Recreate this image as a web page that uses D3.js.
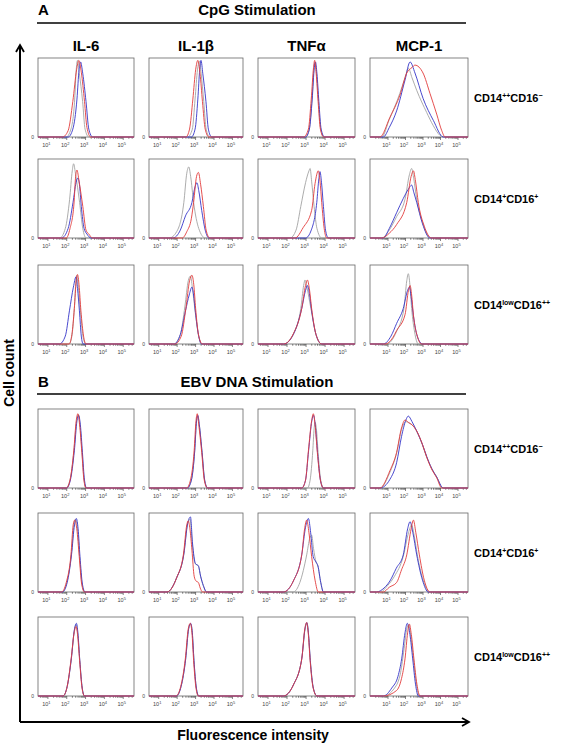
<!DOCTYPE html>
<html><head><meta charset="utf-8">
<script src="https://cdn.jsdelivr.net/npm/d3@7"></script>
<style>body{margin:0;background:#fff} text{font-family:"Liberation Sans",Arial,sans-serif}</style>
</head><body><svg id="c" width="565" height="744"></svg>
<script>
// ---------------- DATA ----------------
const sections = [{letter:"A", title:"CpG Stimulation"}, {letter:"B", title:"EBV DNA Stimulation"}];
const columns = ["IL-6", "IL-1β", "TNFα", "MCP-1"];
const rowLabels = [["CD14","++","CD16","−"], ["CD14","+","CD16","+"], ["CD14","low","CD16","++"]];
const tickExponents = [1, 2, 3, 4, 5];
// each curve: [log10 fluorescence, % of max cell count]
const CPG_IL6 = [
 { gray:[[2.0,0],[2.25,10],[2.45,48],[2.53,85],[2.6,97],[2.7,80],[2.87,45],[3.0,10],[3.2,0]],
   blue:[[2.1,0],[2.35,10],[2.57,48],[2.68,85],[2.76,95],[2.88,80],[3.05,45],[3.2,10],[3.4,0]],
   red:[[1.8,0],[2.1,8],[2.35,45],[2.55,85],[2.67,97],[2.8,82],[2.97,45],[3.1,12],[3.3,0]] },
 { gray:[[1.65,0],[1.95,12],[2.18,49],[2.32,85],[2.39,94],[2.5,80],[2.71,45],[2.88,12],[3.06,0]],
   blue:[[1.75,0],[2.1,12],[2.36,45],[2.52,70],[2.62,76],[2.7,68],[2.8,40],[2.95,12],[3.1,5],[3.32,0]],
   red:[[2.0,0],[2.2,12],[2.41,43],[2.5,78],[2.57,86],[2.68,72],[2.88,40],[3.05,10],[3.2,5],[3.4,0]] },
 { gray:[[2.15,0],[2.3,10],[2.43,45],[2.52,80],[2.56,87],[2.63,75],[2.76,40],[2.9,8],[3.05,0]],
   blue:[[1.64,0],[1.95,10],[2.17,42],[2.38,72],[2.52,85],[2.6,70],[2.7,42],[2.8,10],[2.9,0]],
   red:[[2.15,0],[2.3,12],[2.43,45],[2.53,80],[2.6,88],[2.68,75],[2.78,42],[2.92,10],[3.05,0]] }
];
const CPG_IL1B = [
 { gray:[[2.6,0],[2.85,10],[3.0,48],[3.13,85],[3.24,96],[3.33,80],[3.47,45],[3.6,10],[3.8,0]],
   blue:[[2.8,0],[3.0,10],[3.15,48],[3.25,85],[3.32,97],[3.42,80],[3.59,45],[3.72,10],[3.9,0]],
   red:[[2.5,0],[2.7,10],[2.88,48],[3.03,85],[3.15,97],[3.27,80],[3.4,45],[3.55,10],[3.75,0]] },
 { gray:[[1.6,0],[2.0,8],[2.39,45],[2.55,82],[2.66,90],[2.76,78],[2.92,45],[3.2,12],[3.55,0]],
   blue:[[1.8,0],[2.2,10],[2.48,28],[2.83,45],[3.0,65],[3.1,70],[3.2,60],[3.36,35],[3.55,10],[3.75,0]],
   red:[[2.3,0],[2.55,8],[2.8,25],[2.92,45],[3.08,78],[3.18,83],[3.3,68],[3.45,40],[3.6,10],[3.8,0]] },
 { gray:[[1.85,0],[2.2,12],[2.45,48],[2.63,80],[2.75,86],[2.85,72],[3.0,42],[3.18,12],[3.35,0]],
   blue:[[1.85,0],[2.2,12],[2.48,42],[2.68,62],[2.83,72],[2.92,62],[3.02,40],[3.18,12],[3.35,0]],
   red:[[1.9,0],[2.25,10],[2.5,45],[2.7,80],[2.83,87],[2.93,75],[3.03,45],[3.2,10],[3.4,0]] }
];
const CPG_TNF = [
 { gray:[[3.0,0],[3.2,10],[3.34,48],[3.45,88],[3.5,94],[3.58,80],[3.68,45],[3.8,10],[3.97,0]],
   blue:[[3.0,0],[3.2,10],[3.35,48],[3.46,88],[3.52,95],[3.6,80],[3.7,45],[3.82,10],[4.0,0]],
   red:[[2.9,0],[3.15,10],[3.3,48],[3.42,88],[3.48,97],[3.56,80],[3.66,45],[3.78,10],[3.95,0]] },
 { gray:[[2.18,0],[2.5,10],[2.75,40],[3.0,70],[3.18,85],[3.24,88],[3.32,72],[3.45,40],[3.6,12],[3.85,0]],
   blue:[[3.0,0],[3.3,10],[3.59,45],[3.7,75],[3.76,84],[3.84,70],[3.94,40],[4.05,10],[4.2,0]],
   red:[[2.45,0],[2.87,13],[3.32,35],[3.5,69],[3.67,85],[3.76,72],[3.85,45],[3.98,12],[4.11,0]] },
 { gray:[[1.85,0],[2.36,13],[2.75,45],[2.9,74],[2.97,81],[3.07,72],[3.28,45],[3.55,12],[3.85,0]],
   blue:[[1.85,0],[2.36,12],[2.8,45],[3.0,68],[3.1,74],[3.2,64],[3.32,42],[3.55,12],[3.85,0]],
   red:[[1.85,0],[2.36,13],[2.8,45],[3.0,74],[3.1,81],[3.2,70],[3.32,45],[3.55,12],[3.85,0]] }
];
const CPG_MCP = [
 { gray:[[0.67,0],[1.1,22],[1.7,55],[2.0,75],[2.19,87],[2.4,75],[2.67,59],[3.24,31],[3.6,15],[4.0,2],[4.2,0]],
   blue:[[0.76,0],[1.1,12],[1.52,33],[2.0,72],[2.29,95],[2.57,81],[3.03,49],[3.62,21],[4.19,0]],
   red:[[0.57,0],[1.14,25],[1.71,53],[2.1,81],[2.4,88],[2.57,91],[3.03,81],[3.43,55],[3.81,29],[4.1,8],[4.29,0]] },
 { gray:[[0.67,0],[1.1,10],[1.52,27],[2.0,49],[2.25,80],[2.38,88],[2.5,75],[2.67,49],[3.0,20],[3.43,0]],
   blue:[[0.76,0],[1.1,12],[1.52,32],[1.9,50],[2.2,62],[2.38,67],[2.5,58],[2.67,45],[3.0,18],[3.43,0]],
   red:[[0.67,0],[1.1,6],[1.52,17],[2.1,45],[2.35,78],[2.48,85],[2.6,72],[2.76,45],[3.1,15],[3.52,0]] },
 { gray:[[0.95,0],[1.5,15],[1.94,45],[2.1,80],[2.19,89],[2.28,75],[2.38,45],[2.55,15],[2.76,0]],
   blue:[[0.76,0],[1.2,10],[1.52,26],[1.9,45],[2.15,68],[2.25,72],[2.35,60],[2.48,36],[2.7,10],[3.0,0]],
   red:[[0.86,0],[1.3,8],[1.52,17],[2.0,37],[2.2,68],[2.29,74],[2.38,62],[2.48,37],[2.7,10],[2.95,0]] }
];
const EBV_IL6 = [
 { gray:[[2.0,0],[2.2,10],[2.41,47],[2.55,85],[2.64,93],[2.73,80],[2.84,45],[2.95,10],[3.06,0]],
   blue:[[2.02,0],[2.22,10],[2.43,47],[2.57,85],[2.66,92],[2.75,80],[2.86,45],[2.97,10],[3.08,0]],
   red:[[2.0,0],[2.2,10],[2.4,47],[2.53,85],[2.62,94],[2.71,80],[2.83,45],[2.94,10],[3.05,0]] },
 { gray:[[1.78,0],[2.03,12],[2.27,47],[2.41,85],[2.5,92],[2.6,80],[2.71,45],[2.84,10],[2.98,0]],
   blue:[[1.8,0],[2.05,12],[2.28,47],[2.44,85],[2.54,93],[2.63,80],[2.73,45],[2.86,10],[3.0,0]],
   red:[[1.75,0],[2.0,12],[2.25,47],[2.37,85],[2.45,91],[2.56,80],[2.69,45],[2.82,10],[2.97,0]] },
 { gray:[[1.83,0],[2.05,12],[2.27,47],[2.43,83],[2.53,90],[2.61,79],[2.72,45],[2.85,10],[2.97,0]],
   blue:[[1.83,0],[2.05,12],[2.27,47],[2.44,85],[2.54,92],[2.62,80],[2.72,45],[2.85,10],[2.97,0]],
   red:[[1.83,0],[2.05,12],[2.26,47],[2.42,80],[2.52,88],[2.6,78],[2.71,45],[2.84,10],[2.97,0]] }
];
const EBV_IL1B = [
 { gray:[[2.58,0],[2.8,10],[2.98,47],[3.08,85],[3.15,91],[3.23,80],[3.38,45],[3.52,10],[3.68,0]],
   blue:[[2.58,0],[2.8,10],[2.98,47],[3.08,85],[3.15,92],[3.23,80],[3.38,45],[3.52,10],[3.68,0]],
   red:[[2.54,0],[2.75,10],[2.95,47],[3.05,85],[3.12,94],[3.2,80],[3.36,45],[3.5,10],[3.67,0]] },
 { gray:[[1.48,0],[2.0,18],[2.39,48],[2.58,85],[2.72,92],[2.85,60],[3.0,36],[3.18,33],[3.3,20],[3.45,8],[3.63,0]],
   blue:[[1.48,0],[2.0,18],[2.39,48],[2.6,87],[2.75,95],[2.86,62],[3.02,36],[3.18,33],[3.3,20],[3.45,8],[3.63,0]],
   red:[[1.48,0],[2.0,18],[2.37,48],[2.55,85],[2.63,90],[2.72,80],[2.83,53],[2.95,20],[3.05,14],[3.18,12],[3.28,5],[3.4,0]] },
 { gray:[[1.98,0],[2.24,12],[2.49,47],[2.65,85],[2.76,91],[2.85,80],[2.94,45],[3.07,10],[3.2,0]],
   blue:[[1.98,0],[2.24,12],[2.49,47],[2.65,85],[2.76,92],[2.85,80],[2.94,45],[3.07,10],[3.2,0]],
   red:[[1.96,0],[2.22,12],[2.47,47],[2.63,85],[2.74,92],[2.83,80],[2.92,45],[3.05,10],[3.18,0]] }
];
const EBV_TNF = [
 { gray:[[3.1,0],[3.24,10],[3.38,47],[3.45,75],[3.5,83],[3.57,75],[3.66,45],[3.8,10],[3.95,0]],
   blue:[[2.8,0],[3.0,10],[3.16,47],[3.33,85],[3.42,92],[3.51,80],[3.63,45],[3.78,10],[3.94,0]],
   red:[[2.8,0],[3.0,10],[3.15,47],[3.32,85],[3.41,94],[3.5,80],[3.62,45],[3.78,10],[3.94,0]] },
 { gray:[[2.36,0],[2.7,12],[3.06,47],[3.22,68],[3.32,72],[3.42,55],[3.55,38],[3.65,33],[3.8,12],[3.94,0]],
   blue:[[1.83,0],[2.36,14],[2.8,47],[3.0,82],[3.15,93],[3.27,75],[3.4,45],[3.55,38],[3.65,33],[3.8,12],[3.94,0]],
   red:[[1.83,0],[2.36,14],[2.8,47],[2.95,80],[3.06,91],[3.18,75],[3.32,45],[3.5,15],[3.67,0]] },
 { gray:[[1.83,0],[2.36,14],[2.8,47],[2.97,84],[3.07,92],[3.15,80],[3.25,45],[3.41,10],[3.6,0]],
   blue:[[1.83,0],[2.36,14],[2.8,47],[2.97,85],[3.07,93],[3.15,80],[3.25,45],[3.41,10],[3.6,0]],
   red:[[1.83,0],[2.36,14],[2.8,47],[2.96,85],[3.06,93],[3.14,80],[3.24,45],[3.4,10],[3.6,0]] }
];
const EBV_MCP = [
 { gray:[[0.57,0],[1.14,20],[1.52,44],[1.8,74],[2.05,84],[2.25,82],[2.45,79],[2.67,72],[3.0,54],[3.24,39],[3.52,25],[3.81,14],[4.15,0]],
   blue:[[0.57,0],[1.14,11],[1.52,32],[1.8,65],[2.05,86],[2.19,91],[2.4,84],[2.67,72],[3.0,55],[3.24,40],[3.52,25],[3.81,14],[4.19,0]],
   red:[[0.57,0],[1.14,22],[1.52,45],[1.8,76],[2.0,86],[2.2,83],[2.4,80],[2.67,72],[3.0,55],[3.24,39],[3.52,24],[3.81,13],[4.1,0]] },
 { gray:[[0.6,0],[1.0,8],[1.4,20],[1.9,45],[2.2,75],[2.38,85],[2.52,72],[2.72,45],[3.05,14],[3.4,0]],
   blue:[[0.38,0],[0.8,5],[1.14,14],[1.5,30],[1.9,47],[2.15,80],[2.29,89],[2.45,75],[2.67,47],[3.0,15],[3.33,0]],
   red:[[0.76,0],[1.1,6],[1.52,12],[1.8,28],[2.1,47],[2.35,80],[2.48,91],[2.62,75],[2.82,47],[3.1,15],[3.43,0]] },
 { gray:[[0.76,0],[1.4,10],[1.75,30],[1.95,60],[2.1,85],[2.2,90],[2.33,76],[2.48,47],[2.65,15],[2.82,0]],
   blue:[[0.76,0],[1.24,10],[1.6,25],[1.81,47],[2.0,80],[2.13,92],[2.28,78],[2.44,47],[2.6,15],[2.76,0]],
   red:[[0.76,0],[1.52,7],[1.8,22],[2.0,47],[2.15,80],[2.25,91],[2.36,78],[2.51,47],[2.68,15],[2.86,0]] }
];
const sectionPanels = [[CPG_IL6, CPG_IL1B, CPG_TNF, CPG_MCP], [EBV_IL6, EBV_IL1B, EBV_TNF, EBV_MCP]];

// ---------------- LAYOUT / STYLE ----------------
const svg = d3.select("#c");
const colX = [38, 149, 258, 370], colW = [96, 94, 97, 98];
const rowY = [58, 159, 265, 409, 513, 617], panelH = 79;
const colExpRange = [[0.5, 5.6], [0.5, 5.6], [0.5, 5.6], [0, 5.6]];
const colors = {gray: "#a3a3a3", blue: "#3434c8", red: "#e23b3b"};
const drawOrder = ["gray", "blue", "red"];
const sectionTextY = [15, 387], sectionLineY = [23, 394];

// section titles
sections.forEach((s, i) => {
  svg.append("text").attr("x", 38).attr("y", sectionTextY[i]).attr("font-size", 15).attr("font-weight", "bold").text(s.letter);
  svg.append("text").attr("x", 257).attr("y", sectionTextY[i]).attr("font-size", 15).attr("font-weight", "bold")
     .attr("text-anchor", "middle").text(s.title);
  svg.append("line").attr("x1", 37).attr("x2", 466).attr("y1", sectionLineY[i]).attr("y2", sectionLineY[i])
     .attr("stroke", "#000").attr("stroke-width", 1.6);
});
// column headers (section A only)
columns.forEach((c, i) => {
  svg.append("text").attr("x", colX[i] + colW[i] / 2).attr("y", 51).attr("font-size", 15).attr("font-weight", "bold")
     .attr("text-anchor", "middle").text(c);
});
// row labels
[0, 1].forEach(s => rowLabels.forEach((lab, r) => {
  const t = svg.append("text").attr("x", 474).attr("y", rowY[s * 3 + r] + 44).attr("font-size", 11).attr("font-weight", "bold");
  t.append("tspan").text(lab[0]);
  t.append("tspan").attr("font-size", 7).attr("dy", -4).text(lab[1]);
  t.append("tspan").attr("dy", 4).text(lab[2]);
  t.append("tspan").attr("font-size", 7).attr("dy", -4).text(lab[3]);
}));

// panels
sectionPanels.forEach((cols, s) => cols.forEach((rows, c) => rows.forEach((curves, r) => {
  const top = rowY[s * 3 + r], left = colX[c], w = colW[c], bottom = top + panelH;
  const [e0, e1] = colExpRange[c];
  const x = d3.scaleLog().domain([Math.pow(10, e0), Math.pow(10, e1)]).range([left, left + w]);
  const y = d3.scaleLinear().domain([0, 100]).range([bottom, top]);
  const g = svg.append("g");
  g.append("rect").attr("x", left).attr("y", top).attr("width", w).attr("height", panelH)
   .attr("fill", "none").attr("stroke", "#666").attr("stroke-width", 0.8);
  // minor & major ticks
  const [lo, hi] = x.domain();
  const minor = [];
  for (let d = Math.floor(e0); d <= Math.ceil(e1); d++) for (let m = 2; m <= 9; m++) {
    const v = m * Math.pow(10, d); if (v >= lo && v <= hi) minor.push(v);
  }
  const major = tickExponents.map(k => Math.pow(10, k));
  const ax1 = g.append("g").attr("transform", `translate(0,${bottom})`)
    .call(d3.axisBottom(x).tickValues(minor).tickSize(1.8).tickSizeOuter(0).tickFormat(""));
  const ax2 = g.append("g").attr("transform", `translate(0,${bottom})`)
    .call(d3.axisBottom(x).tickValues(major).tickSize(3).tickSizeOuter(0).tickFormat(""));
  [ax1, ax2].forEach(a => { a.select(".domain").remove(); a.selectAll("line").attr("stroke", "#333").attr("stroke-width", 0.6); });
  // tick labels
  tickExponents.forEach(k => {
    const t = g.append("text").attr("x", x(Math.pow(10, k)) - 1).attr("y", bottom + 10)
      .attr("font-size", 5.5).attr("fill", "#444").attr("text-anchor", "middle");
    t.append("tspan").text("10");
    t.append("tspan").attr("font-size", 4).attr("dy", -2.5).text(k);
  });
  g.append("text").attr("x", left - 4).attr("y", bottom + 1.5).attr("font-size", 5).attr("fill", "#444")
   .attr("text-anchor", "end").text("0");
  // histograms
  const line = d3.line().x(d => x(Math.pow(10, d[0]))).y(d => y(d[1])).curve(d3.curveMonotoneX);
  drawOrder.forEach(k => {
    const pts = [[e0, 0], ...curves[k], [e1, 0]];
    g.append("path").attr("d", line(pts)).attr("fill", "none").attr("stroke", colors[k]).attr("stroke-width", 0.9);
  });
})));

// big axes
svg.append("path").attr("d", "M20,722 V46").attr("stroke", "#000").attr("stroke-width", 2).attr("fill", "none");
svg.append("path").attr("d", "M20,722 H469").attr("stroke", "#000").attr("stroke-width", 2).attr("fill", "none");
svg.append("path").attr("d", "M16,52 L20,45 L24,52").attr("stroke", "#000").attr("stroke-width", 1.8).attr("fill", "none");
svg.append("path").attr("d", "M462,718 L469,722 L462,726").attr("stroke", "#000").attr("stroke-width", 1.8).attr("fill", "none");
svg.append("text").attr("x", 253).attr("y", 740).attr("font-size", 14).attr("font-weight", "bold")
   .attr("text-anchor", "middle").text("Fluorescence intensity");
svg.append("text").attr("transform", "translate(14,373) rotate(-90)").attr("font-size", 14).attr("font-weight", "bold")
   .attr("text-anchor", "middle").text("Cell count");
</script></body></html>
